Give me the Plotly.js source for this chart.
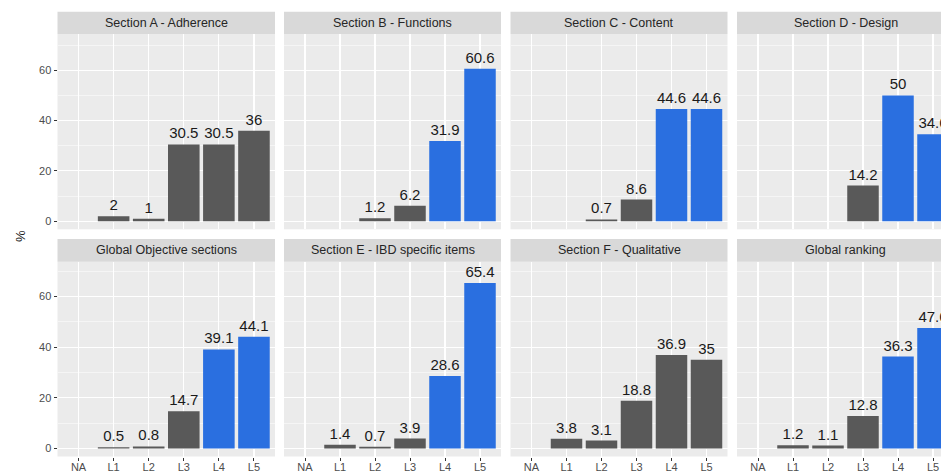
<!DOCTYPE html>
<html>
<head>
<meta charset="utf-8">
<script src="https://cdn.plot.ly/plotly-3.0.1.min.js"></script>
<style>
html,body{margin:0;padding:0;overflow:hidden;background:#fff;}
#chart{width:960px;height:474px;}
</style>
</head>
<body>
<div id="chart"></div>
<script>
// ---- data ----
const categories = ['NA', 'L1', 'L2', 'L3', 'L4', 'L5'];
const facetTitles = [
  'Section A - Adherence', 'Section B - Functions', 'Section C - Content', 'Section D - Design',
  'Global Objective sections', 'Section E - IBD specific items', 'Section F - Qualitative', 'Global ranking'
];
const sectionA = [null, 2, 1, 30.5, 30.5, 36];
const sectionB = [null, null, 1.2, 6.2, 31.9, 60.6];
const sectionC = [null, null, 0.7, 8.6, 44.6, 44.6];
const sectionD = [null, null, null, 14.2, 50, 34.6];
const globalObjective = [null, 0.5, 0.8, 14.7, 39.1, 44.1];
const sectionE = [null, 1.4, 0.7, 3.9, 28.6, 65.4];
const sectionF = [null, 3.8, 3.1, 18.8, 36.9, 35];
const globalRanking = [null, 1.2, 1.1, 12.8, 36.3, 47.6];
const facetValues = [sectionA, sectionB, sectionC, sectionD, globalObjective, sectionE, sectionF, globalRanking];
// whether L4/L5 are highlighted in blue for each facet
const highlightTop = [false, true, true, true, true, true, false, true];
const highlightCats = ['L4', 'L5'];
const yTicks = [0, 20, 40, 60];

// ---- layout geometry (pixels) ----
const W = 960, H = 474;
const colX = [[57.5, 275], [284, 501], [510.5, 727.5], [737, 954]];
const rowPanel = [[34, 229.3], [261.7, 456.5]];
const rowStrip = [[11.7, 34], [239, 261.7]];
const GREY = '#595959', BLUE = '#2a6fe0';
const FONT = 'Liberation Sans, Arial, sans-serif';

const fx = p => p / W;
const fy = p => 1 - p / H;

const traces = [];
const layout = {
  width: W, height: H,
  margin: {l: 0, r: 0, t: 0, b: 0},
  paper_bgcolor: '#ffffff',
  plot_bgcolor: '#ebebeb',
  showlegend: false,
  font: {family: FONT},
  shapes: [], annotations: []
};

facetValues.forEach((vals, i) => {
  const row = Math.floor(i / 4), col = i % 4;
  const n = i === 0 ? '' : String(i + 1);
  const xa = 'x' + n, ya = 'y' + n;
  const yr = row === 0 ? [-3.2, 74.4] : [-3.2, 73.8];
  traces.push({
    type: 'bar',
    x: categories,
    y: vals,
    xaxis: xa, yaxis: ya,
    width: 0.9,
    marker: {color: categories.map(c => (highlightTop[i] && highlightCats.includes(c)) ? BLUE : GREY)},
    text: vals.map(v => v == null ? '' : String(v)),
    textposition: 'outside',
    constraintext: 'none',
    cliponaxis: false,
    textfont: {family: FONT, size: 15, color: '#1a1a1a'},
    hoverinfo: 'skip'
  });
  layout['xaxis' + n] = {
    domain: [fx(colX[col][0]), fx(colX[col][1])],
    anchor: ya,
    type: 'category',
    categoryorder: 'array', categoryarray: categories,
    range: [-0.6, 5.6],
    showgrid: true, gridcolor: '#ffffff', gridwidth: 1.1,
    zeroline: false, showline: false,
    ticks: row === 1 ? 'outside' : '', ticklen: 3, tickcolor: '#333333', tickwidth: 1,
    showticklabels: row === 1,
    ticklabelstandoff: -3,
    tickfont: {family: FONT, size: 11, color: '#4d4d4d'},
    fixedrange: true
  };
  layout['yaxis' + n] = {
    domain: [fy(rowPanel[row][1]), fy(rowPanel[row][0])],
    anchor: xa,
    range: yr,
    tickvals: yTicks,
    showgrid: true, gridcolor: '#ffffff', gridwidth: 1.1,
    minor: {tickvals: [10, 30, 50, 70], showgrid: true, gridcolor: '#ffffff', gridwidth: 0.5, ticks: ''},
    zeroline: false, showline: false,
    ticks: col === 0 ? 'outside' : '', ticklen: 3, tickcolor: '#333333', tickwidth: 1,
    showticklabels: col === 0,
    tickfont: {family: FONT, size: 11, color: '#4d4d4d'},
    fixedrange: true
  };
  // strip
  layout.shapes.push({
    type: 'rect', xref: 'paper', yref: 'paper', layer: 'below',
    x0: fx(colX[col][0]), x1: fx(colX[col][1]),
    y0: fy(rowStrip[row][1]), y1: fy(rowStrip[row][0]),
    fillcolor: '#d9d9d9', line: {width: 0}
  });
  layout.annotations.push({
    xref: 'paper', yref: 'paper',
    x: fx((colX[col][0] + colX[col][1]) / 2),
    y: fy((rowStrip[row][0] + rowStrip[row][1]) / 2),
    xanchor: 'center', yanchor: 'middle', showarrow: false,
    text: facetTitles[i],
    font: {family: FONT, size: 12.5, color: '#262626'}
  });
});

layout.annotations.push({
  xref: 'paper', yref: 'paper', x: fx(20), y: fy(236),
  xanchor: 'center', yanchor: 'middle', showarrow: false,
  text: '%', textangle: -90,
  font: {family: FONT, size: 13, color: '#1a1a1a'}
});

Plotly.newPlot('chart', traces, layout, {staticPlot: true, displayModeBar: false});
</script>
</body>
</html>
